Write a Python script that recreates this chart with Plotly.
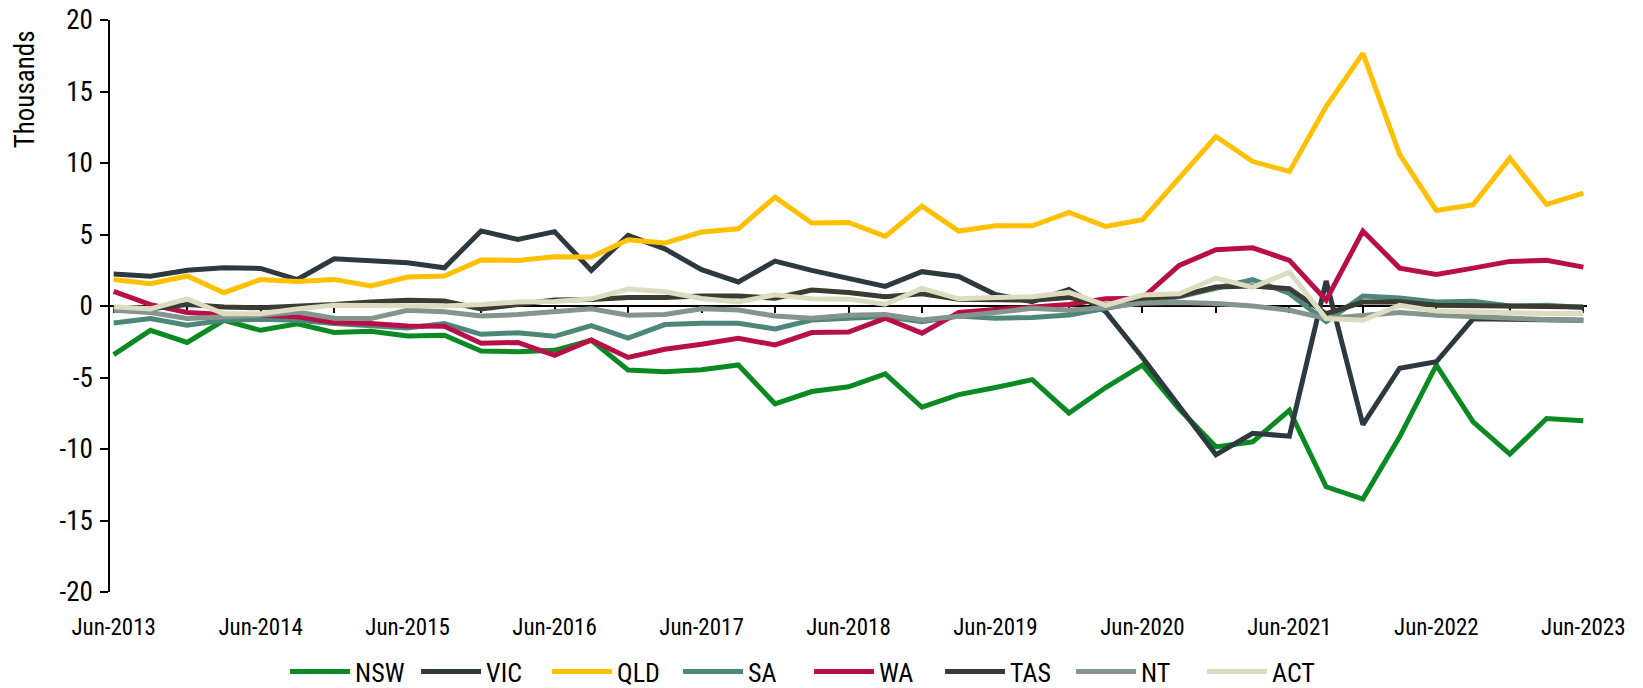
import plotly.graph_objects as go

# quarter labels Jun-2013 .. Jun-2023 (41 quarters)
quarters = []
for y in range(2013, 2024):
    for m, yy in (("Jun", y), ("Sep", y), ("Dec", y), ("Mar", y + 1)):
        quarters.append(f"{m}-{yy}")
quarters = quarters[:41]

x_tick_labels = [f"Jun-{y}" for y in range(2013, 2024)]
y_tick_values = [-20, -15, -10, -5, 0, 5, 10, 15, 20]
y_tick_labels = ["-20", "-15", "-10", "-5", "0", "5", "10", "15", "20"]

NSW = [-3.4, -1.7, -2.55, -1.0, -1.7, -1.25, -1.85, -1.77, -2.1, -2.05,
       -3.15, -3.2, -3.1, -2.4, -4.47, -4.6, -4.45, -4.12, -6.84, -5.98,
       -5.65, -4.75, -7.08, -6.2, -5.7, -5.15, -7.48, -5.7, -4.14, -7.2,
       -9.85, -9.5, -7.29, -12.64, -13.5, -9.15, -4.14, -8.1, -10.36, -7.87,
       -8.03]
VIC = [2.23, 2.08, 2.5, 2.68, 2.63, 1.85, 3.3, 3.15, 3.03, 2.67,
       5.25, 4.65, 5.2, 2.49, 4.94, 4.0, 2.54, 1.68, 3.14, 2.49,
       1.91, 1.37, 2.4, 2.07, 0.8, 0.3, 1.15, -0.4, -3.6, -7.0,
       -10.4, -8.9, -9.1, 1.75, -8.3, -4.35, -3.9, -0.9, -0.95, -1.0,
       -1.0]
QLD = [1.86, 1.56, 2.1, 0.93, 1.86, 1.72, 1.86, 1.4, 2.03, 2.1,
       3.22, 3.19, 3.45, 3.42, 4.63, 4.4, 5.17, 5.4, 7.61, 5.8,
       5.84, 4.87, 6.98, 5.24, 5.61, 5.61, 6.54, 5.56, 6.03, 8.9,
       11.85, 10.1, 9.41, 13.95, 17.67, 10.6, 6.68, 7.08, 10.34, 7.1,
       7.89]
SA = [-1.19, -0.88, -1.35, -1.0, -0.93, -1.0, -1.23, -1.35, -1.54, -1.23,
      -1.98, -1.87, -2.12, -1.37, -2.24, -1.3, -1.21, -1.21, -1.6, -0.98,
      -0.86, -0.74, -1.1, -0.7, -0.86, -0.8, -0.63, -0.16, 0.3, 0.65,
      1.23, 1.84, 0.88, -1.1, 0.7, 0.56, 0.28, 0.33, 0.0, 0.05,
      -0.1]
WA = [1.02, 0.1, -0.45, -0.6, -0.65, -0.75, -1.15, -1.23, -1.4, -1.42,
      -2.6, -2.55, -3.45, -2.37, -3.6, -3.03, -2.68, -2.26, -2.72, -1.86,
      -1.82, -0.86, -1.9, -0.45, -0.25, -0.05, 0.1, 0.5, 0.55, 2.84,
      3.93, 4.07, 3.19, 0.4, 5.24, 2.65, 2.21, 2.65, 3.12, 3.19,
      2.72]
TAS = [-0.3, -0.2, 0.1, -0.07, -0.12, -0.05, 0.1, 0.28, 0.4, 0.35,
       -0.2, 0.1, 0.42, 0.45, 0.6, 0.6, 0.7, 0.7, 0.55, 1.12,
       0.95, 0.65, 0.85, 0.47, 0.4, 0.4, 0.6, 0.07, 0.55, 0.7,
       1.33, 1.4, 1.21, -0.54, 0.28, 0.3, 0.05, 0.0, -0.02, -0.05,
       -0.07]
NT = [-0.3, -0.45, -0.88, -0.77, -0.65, -0.42, -0.85, -0.88, -0.3, -0.4,
      -0.7, -0.6, -0.44, -0.2, -0.65, -0.6, -0.2, -0.28, -0.7, -0.86,
      -0.65, -0.6, -0.98, -0.74, -0.45, -0.16, -0.3, -0.1, 0.2, 0.25,
      0.18, 0.0, -0.3, -0.88, -0.7, -0.45, -0.65, -0.77, -0.85, -0.95,
      -1.0]
ACT = [-0.05, -0.2, 0.5, -0.54, -0.54, -0.2, 0.05, 0.05, 0.0, 0.0,
       0.1, 0.28, 0.32, 0.5, 1.18, 1.0, 0.53, 0.28, 0.78, 0.5,
       0.48, 0.12, 1.23, 0.5, 0.6, 0.65, 0.95, 0.05, 0.77, 0.85,
       1.95, 1.3, 2.37, -0.88, -1.0, 0.05, -0.35, -0.45, -0.48, -0.52,
       -0.52]

series = [("NSW", NSW, "#0B8A24"), ("VIC", VIC, "#2C3A40"), ("QLD", QLD, "#FFC000"),
          ("SA", SA, "#4D877C"), ("WA", WA, "#B80F49"), ("TAS", TAS, "#3A3C32"),
          ("NT", NT, "#83958C"), ("ACT", ACT, "#DEDCC0")]

FONT = "Liberation Sans Narrow, Arial Narrow, Roboto Condensed, Liberation Sans, sans-serif"
idx = list(range(len(quarters)))

fig = go.Figure()
for name, vals, col in series:
    fig.add_trace(go.Scatter(x=idx, y=vals, name=name, mode="lines",
                             line=dict(color=col, width=5), customdata=quarters,
                             hovertemplate="%{customdata}: %{y}<extra>" + name + "</extra>"))
# dummy trace so the labelled bottom axis exists
fig.add_trace(go.Scatter(x=[0], y=[None], xaxis="x2", mode="lines",
                         showlegend=False, hoverinfo="skip"))

fig.update_layout(
    width=1643, height=688, autosize=False,
    margin=dict(l=110, r=56, t=20, b=96, autoexpand=False),
    paper_bgcolor="white", plot_bgcolor="white",
    font=dict(family=FONT, size=27, color="black"),
    showlegend=True,
    legend=dict(orientation="h", x=0.4733, xanchor="center", y=-0.139, yanchor="middle",
                font=dict(family=FONT, size=26), itemwidth=60, entrywidth=56,
                bgcolor="rgba(0,0,0,0)"),
    xaxis=dict(range=[-0.1, 40.1], anchor="free", position=0.5, showline=True,
               linecolor="black", linewidth=1.5, ticks="outside", ticklen=6, tickwidth=1.5,
               tickcolor="black", tickvals=list(range(0, 41, 2)), showticklabels=False,
               showgrid=False, zeroline=False, layer="below traces"),
    xaxis2=dict(range=[-0.1, 40.1], overlaying="x", anchor="y", side="bottom",
                showline=False, ticks="outside", ticklen=4, tickcolor="rgba(0,0,0,0)",
                tickvals=list(range(0, 41, 4)), ticktext=x_tick_labels,
                ticklabelstandoff=10, showgrid=False, zeroline=False,
                ticklabeloverflow="allow",
                tickfont=dict(family=FONT, size=23)),
    yaxis=dict(range=[-20, 20], tickvals=y_tick_values, ticktext=y_tick_labels,
               showline=True, linecolor="black", linewidth=1.5, ticks="outside",
               ticklen=8, tickwidth=1.5, tickcolor="black", showgrid=False,
               zeroline=False, ticklabelstandoff=2, ticklabeloverflow="allow",
               tickfont=dict(family=FONT, size=27)),
    annotations=[dict(text="Thousands", xref="paper", yref="paper", x=-0.0575, y=0.879,
                      xanchor="center", yanchor="middle", textangle=-90, showarrow=False,
                      font=dict(family=FONT, size=27))],
)

fig.write_html("out.html", config={"displayModeBar": False},
               post_script="document.body.style.margin='0px';"
                           "document.body.style.overflow='hidden';")
